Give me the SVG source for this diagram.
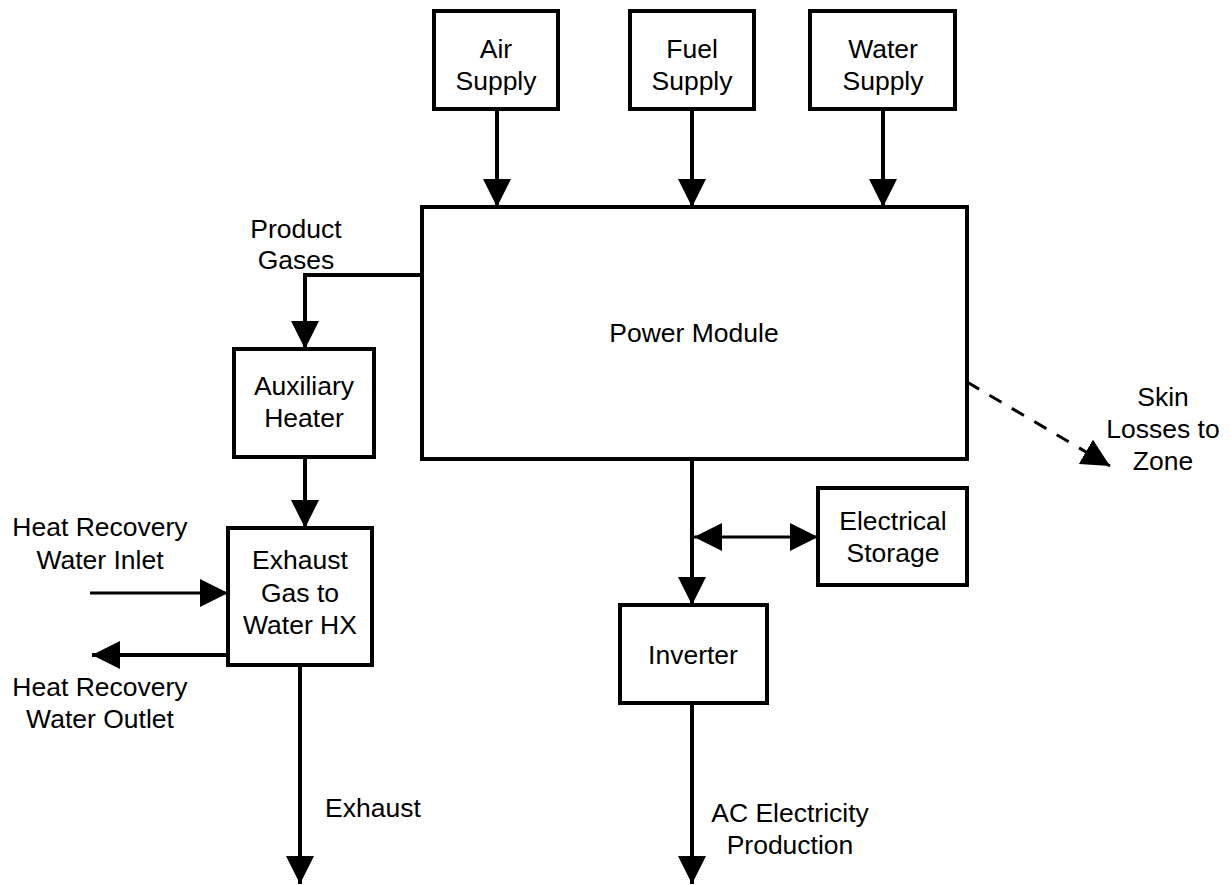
<svg xmlns="http://www.w3.org/2000/svg" width="1231" height="886" viewBox="0 0 1231 886">
<style>
.box{fill:#fff;stroke:#000;stroke-width:4}
.ln{fill:none;stroke:#000;stroke-width:4}
.thin{fill:none;stroke:#000;stroke-width:3}
.dash{fill:none;stroke:#000;stroke-width:3;stroke-dasharray:14 12}
text{font-family:"Liberation Sans",Arial,sans-serif;font-size:26.5px;fill:#000;text-anchor:middle}
.l{text-anchor:start}
</style>
<defs>
<marker id="ah" viewBox="0 0 10 10" refX="10" refY="5" markerUnits="userSpaceOnUse" markerWidth="28" markerHeight="28" orient="auto-start-reverse">
<path d="M0,0 L10,5 L0,10 Z" fill="#000"/>
</marker>
</defs>
<rect width="1231" height="886" fill="#fff"/>
<g id="connectors">
<line class="ln" x1="497" y1="110" x2="497" y2="207" marker-end="url(#ah)"/>
<line class="ln" x1="692" y1="110" x2="692" y2="207" marker-end="url(#ah)"/>
<line class="ln" x1="883" y1="110" x2="883" y2="207" marker-end="url(#ah)"/>
<polyline class="ln" points="422,275 305,275 305,349" marker-end="url(#ah)"/>
<line class="ln" x1="305" y1="457" x2="305" y2="528" marker-end="url(#ah)"/>
<line class="thin" x1="90" y1="593" x2="228" y2="593" marker-end="url(#ah)"/>
<line class="ln" x1="228" y1="655" x2="92" y2="655" marker-end="url(#ah)"/>
<line class="ln" x1="300" y1="665" x2="300" y2="884" marker-end="url(#ah)"/>
<line class="ln" x1="692" y1="459" x2="692" y2="605" marker-end="url(#ah)"/>
<line class="thin" x1="694" y1="537" x2="818" y2="537" marker-start="url(#ah)" marker-end="url(#ah)"/>
<line class="ln" x1="692" y1="703" x2="692" y2="884" marker-end="url(#ah)"/>
<line class="dash" x1="967" y1="382" x2="1110" y2="466" marker-end="url(#ah)"/>
</g>
<g id="air-supply">
<rect class="box" x="434" y="11" width="124" height="98"/>
<text x="496" y="58">Air</text>
<text x="496" y="90">Supply</text>
</g>
<g id="fuel-supply">
<rect class="box" x="630" y="11" width="124" height="98"/>
<text x="692" y="58">Fuel</text>
<text x="692" y="90">Supply</text>
</g>
<g id="water-supply">
<rect class="box" x="810" y="11" width="145" height="98"/>
<text x="883" y="58">Water</text>
<text x="883" y="90">Supply</text>
</g>
<g id="power-module">
<rect class="box" x="422" y="207" width="545" height="252"/>
<text x="694" y="342">Power Module</text>
</g>
<g id="product-gases-label">
<text x="296" y="238">Product</text>
<text x="296" y="269">Gases</text>
</g>
<g id="auxiliary-heater">
<rect class="box" x="234" y="349" width="140" height="108"/>
<text x="304" y="395">Auxiliary</text>
<text x="304" y="427">Heater</text>
</g>
<g id="exhaust-hx">
<rect class="box" x="228" y="528" width="144" height="137"/>
<text x="300" y="569">Exhaust</text>
<text x="300" y="602">Gas to</text>
<text x="300" y="634">Water HX</text>
</g>
<g id="inlet-label">
<text x="100" y="536">Heat Recovery</text>
<text x="100" y="569">Water Inlet</text>
</g>
<g id="outlet-label">
<text x="100" y="696">Heat Recovery</text>
<text x="100" y="728">Water Outlet</text>
</g>
<g id="exhaust-label">
<text class="l" x="325" y="817">Exhaust</text>
</g>
<g id="electrical-storage">
<rect class="box" x="818" y="488" width="149" height="97"/>
<text x="893" y="530">Electrical</text>
<text x="893" y="562">Storage</text>
</g>
<g id="inverter">
<rect class="box" x="620" y="605" width="147" height="98"/>
<text x="693" y="664">Inverter</text>
</g>
<g id="ac-label">
<text x="790" y="822">AC Electricity</text>
<text x="790" y="854">Production</text>
</g>
<g id="skin-label">
<text x="1163" y="406">Skin</text>
<text x="1163" y="438">Losses to</text>
<text x="1163" y="470">Zone</text>
</g>
</svg>
